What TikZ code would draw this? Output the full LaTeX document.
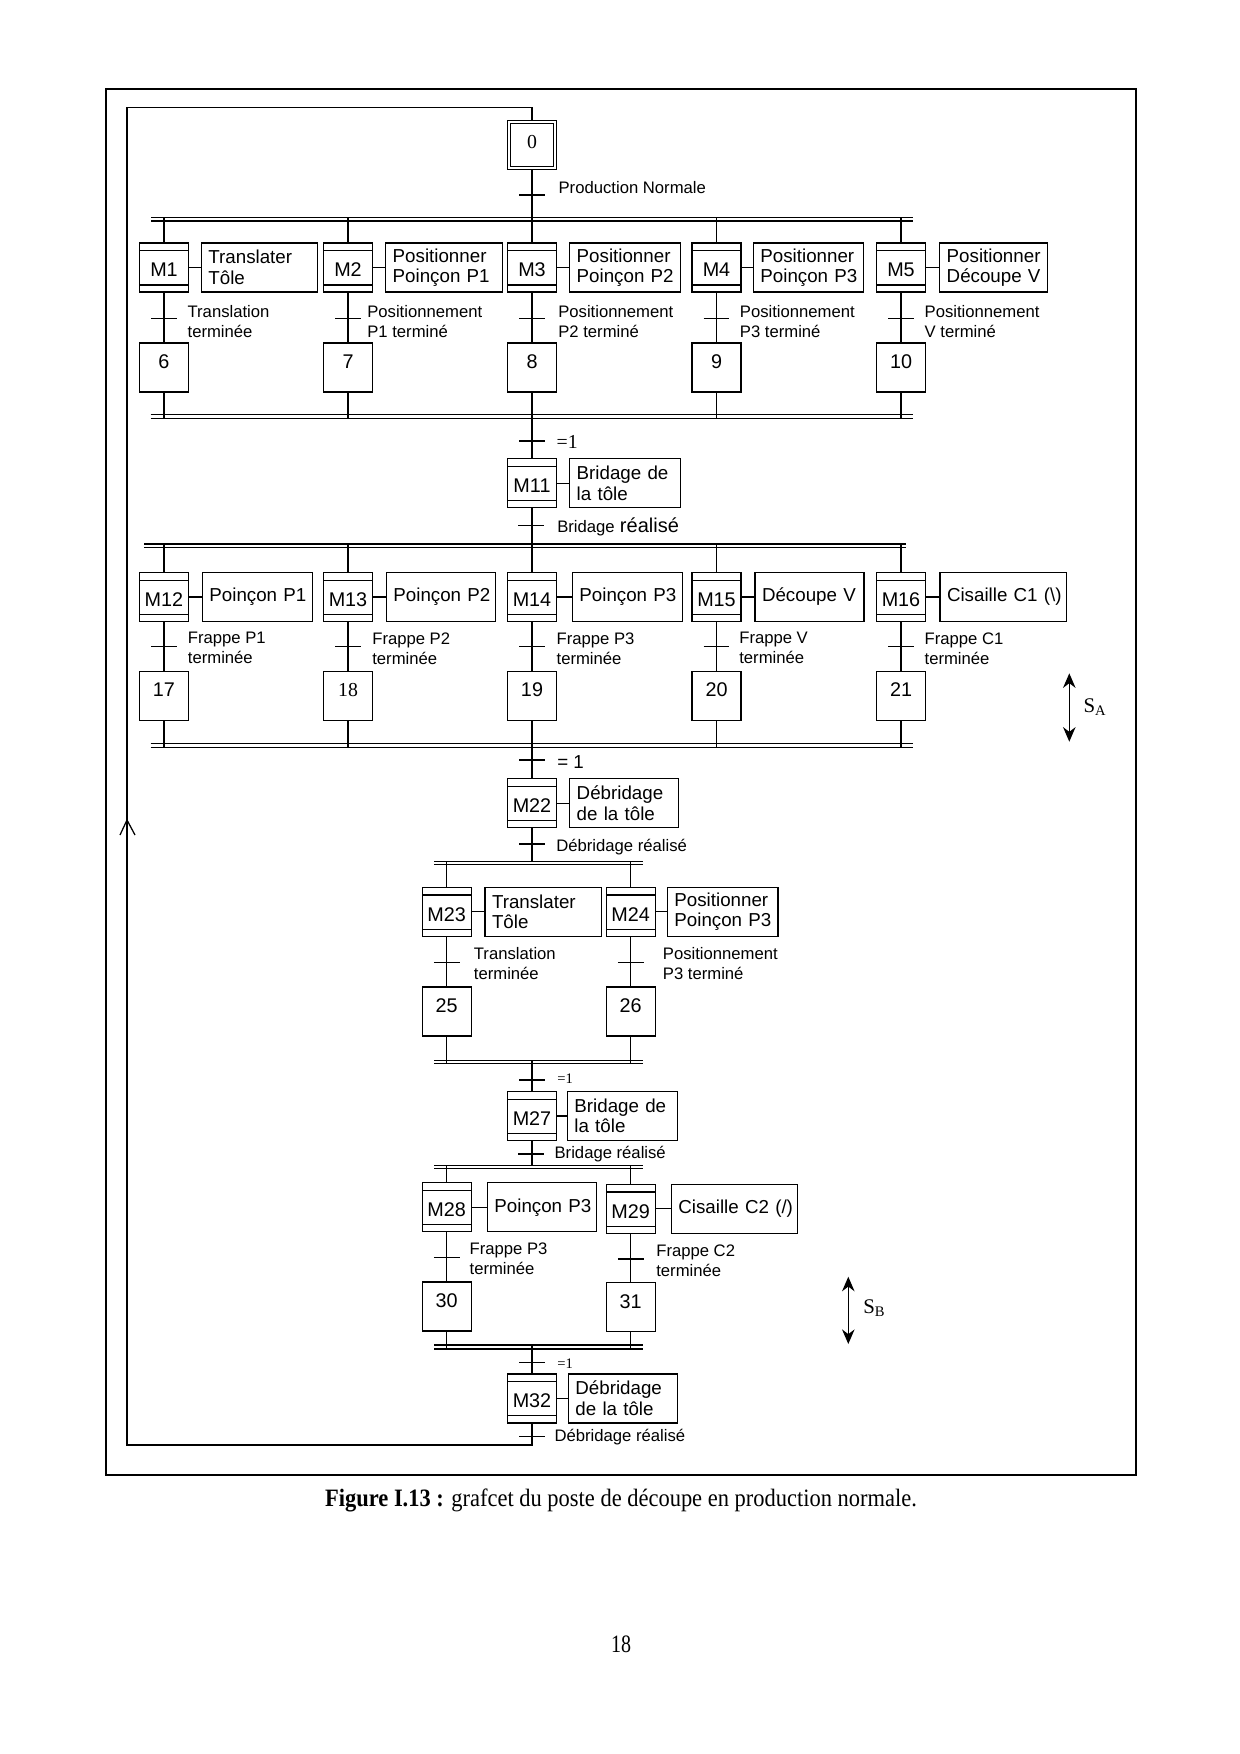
\documentclass[tikz,border=0pt]{standalone}
\usepackage{graphicx}
\usepackage{fontspec}
\setmainfont{Liberation Serif}
\setsansfont{Liberation Sans}
\usetikzlibrary{arrows.meta}
\newcommand\stepfont{\sffamily\fontsize{9.5}{11}\selectfont}
\newcommand\actfont{\sffamily\fontsize{9}{9.9}\selectfont}
\newcommand\trfont{\sffamily\fontsize{8}{9.6}\selectfont}
\newcommand\serfont{\rmfamily\fontsize{9.5}{11}\selectfont}
\newcommand\twol[2]{\mbox{#1}\\\mbox{#2}}
\newcommand\dbar[5]{%
  \coordinate (#1tl) at (#2,#4); \coordinate (#1tr) at (#3,#4);
  \coordinate (#1bl) at (#2,#5); \coordinate (#1br) at (#3,#5);
  \draw (#1tl) -- (#1tr); \draw (#1bl) -- (#1br);}
\newcommand\trbar[1]{\draw ([xshift=-6.2pt]#1) -- ([xshift=6.2pt]#1);}
\begin{document}
\begin{tikzpicture}[x=0.48pt,y=-0.48pt,line width=0.6pt,
  every node/.style={inner sep=0pt},
  stepbox/.style={draw, minimum width=23.5pt, minimum height=23.5pt, font=\stepfont, text height=5pt, text depth=4pt},
  mstep/.style={draw, minimum width=23.5pt, minimum height=23.5pt, font=\stepfont, text height=9pt, text depth=0pt,
    path picture={
      \draw ([yshift=-3.7pt]path picture bounding box.north west) -- ([yshift=-3.7pt]path picture bounding box.north east);
      \draw ([yshift=3.4pt]path picture bounding box.south west) -- ([yshift=3.4pt]path picture bounding box.south east);}},
  actbox/.style={draw, anchor=west, minimum height=23.5pt, inner xsep=3.4pt, inner ysep=0pt, align=left, font=\actfont},
  trlab/.style={anchor=west, align=left, font=\trfont},
  dblarrow/.style={{Stealth[length=7pt,width=6pt]}-{Stealth[length=7pt,width=6pt]}, line width=0.7pt}
]
\useasboundingbox (0,0) rectangle (1240,1754);
\draw[line width=0.8pt] (106,89) rectangle (1136,1475);

% ---------- step 0
\node[stepbox, minimum width=23.2pt, minimum height=23.2pt, font=\serfont, text height=6pt, text depth=3pt] (s0) at (532,145) {0};
\draw ([xshift=1.5pt,yshift=-1.5pt]s0.north west) rectangle ([xshift=-1.5pt,yshift=1.5pt]s0.south east);
\coordinate (t0) at (532,195);
\node[trlab] (l0) at (558,188) {Production Normale};
\dbar{d1}{151}{913}{217.3}{221}

% ---------- row 1
\node[mstep] (M1) at (164,267.5) {M1};
\node[mstep] (M2) at (348,267.5) {M2};
\node[mstep] (M3) at (532,267.5) {M3};
\node[mstep] (M4) at (716.5,267.5) {M4};
\node[mstep] (M5) at (901,267.5) {M5};
\node[actbox, text width=49pt] (A1) at (200.7,267.5) {\twol{Translater}{Tôle}};
\node[actbox, text width=49.4pt] (A2) at (385,267.5) {\twol{Positionner}{Poinçon P1}};
\node[actbox, text width=46.5pt] (A3) at (569,267.5) {\twol{Positionner}{Poinçon P2}};
\node[actbox, text width=46.1pt] (A4) at (752.7,267.5) {\twol{Positionner}{Poinçon P3}};
\node[actbox, text width=44.8pt] (A5) at (939,267.5) {\twol{Positionner}{Découpe V}};
\foreach \i in {1,...,5} {\draw (M\i) -- (A\i);}
\coordinate (t1) at (164,318.7);
\coordinate (t2) at (348,318.7);
\coordinate (t3) at (532,318.7);
\coordinate (t4) at (716.5,318.7);
\coordinate (t5) at (901,318.7);
\node[trlab] (l1) at (187,322) {Translation\\terminée};
\node[trlab] (l2) at (366.7,322) {Positionnement\\P1 terminé};
\node[trlab] (l3) at (557.7,322) {Positionnement\\P2 terminé};
\node[trlab] (l4) at (739.3,322) {Positionnement\\P3 terminé};
\node[trlab] (l5) at (924,322) {Positionnement\\V terminé};
\node[stepbox] (s6) at (164,367.5) {6};
\node[stepbox] (s7) at (348,367.5) {7};
\node[stepbox] (s8) at (532,367.5) {8};
\node[stepbox] (s9) at (716.5,367.5) {9};
\node[stepbox] (s10) at (901,367.5) {10};
\dbar{c1}{150.7}{913}{414.7}{418.7}
\draw (s0.south) -- (M3.north);
\foreach \m in {M1,M2,M4,M5} {\draw (\m.north) -- (\m.north |- d1tl);}
\draw (M1) -- (s6); \draw (M2) -- (s7); \draw (M3) -- (s8); \draw (M4) -- (s9); \draw (M5) -- (s10);
\foreach \s in {s6,s7,s9,s10} {\draw (\s.south) -- (\s.south |- c1bl);}
\foreach \t in {t0,t1,t2,t3,t4,t5} {\trbar{\t}}

% ---------- M11
\coordinate (t11a) at (532,441);
\node[anchor=west, font=\serfont] (l11a) at (556,441.7) {=1};
\node[mstep] (M11) at (532,483.3) {M11};
\node[actbox, text width=46.5pt] (A11) at (569,483.3) {\twol{Bridage de}{la tôle}};
\draw (M11) -- (A11);
\draw (s8.south) -- (M11.north);
\coordinate (t11b) at (531,525.7);
\node[anchor=west] (l11b) at (556.7,526.5) {{\trfont Bridage} {\sffamily\fontsize{9.6}{11}\selectfont réalisé}};
\dbar{d2}{144}{906}{544}{547.3}

% ---------- row 2
\node[mstep] (M12) at (164,596.9) {M12};
\node[mstep] (M13) at (348,596.9) {M13};
\node[mstep] (M14) at (532,596.9) {M14};
\node[mstep] (M15) at (716.5,596.9) {M15};
\node[mstep] (M16) at (901,596.9) {M16};
\node[actbox, text width=46.1pt] (A12) at (201.7,596.9) {\mbox{Poinçon P1}};
\node[actbox, text width=45.5pt] (A13) at (385.7,596.9) {\mbox{Poinçon P2}};
\node[actbox, text width=46.1pt] (A14) at (571.7,596.9) {\mbox{Poinçon P3}};
\node[actbox, text width=45.5pt] (A15) at (754.3,596.9) {\mbox{Découpe V}};
\node[actbox, text width=53.9pt] (A16) at (939.3,596.9) {\mbox{Cisaille C1 (\textbackslash)}};
\foreach \i in {12,...,16} {\draw (M\i) -- (A\i);}
\draw (M11.south) -- (M14.north);
\foreach \m in {M12,M13,M15,M16} {\draw (\m.north) -- (\m.north |- d2tl);}
\coordinate (t12) at (164,646.7);
\coordinate (t13) at (348,646.7);
\coordinate (t14) at (532,646.7);
\coordinate (t15) at (716.5,646.7);
\coordinate (t16) at (901,646.7);
\node[trlab] (l12) at (187.3,648.3) {Frappe P1\\terminée};
\node[trlab] (l13) at (371.7,648.3) {Frappe P2\\terminée};
\node[trlab] (l14) at (556,648.3) {Frappe P3\\terminée};
\node[trlab] (l15) at (738.7,648.3) {Frappe V\\terminée};
\node[trlab] (l16) at (924,648.3) {Frappe C1\\terminée};
\node[stepbox] (s17) at (164,695.9) {17};
\node[stepbox, font=\serfont] (s18) at (348,695.9) {18};
\node[stepbox] (s19) at (532,695.9) {19};
\node[stepbox] (s20) at (716.5,695.9) {20};
\node[stepbox] (s21) at (901,695.9) {21};
\draw (M12) -- (s17); \draw (M13) -- (s18); \draw (M14) -- (s19); \draw (M15) -- (s20); \draw (M16) -- (s21);
\dbar{c2}{150.7}{913}{743.3}{747.3}
\foreach \s in {s17,s18,s20,s21} {\draw (\s.south) -- (\s.south |- c2bl);}
\foreach \t in {t11a,t11b,t12,t13,t14,t15,t16} {\trbar{\t}}

% S_A
\coordinate (sAt) at (1069.3,673.3);
\coordinate (sAb) at (1069.3,741.7);
\draw[dblarrow] (sAt) -- (sAb);
\node[anchor=west, font=\rmfamily\fontsize{10}{12}\selectfont] (sAl) at (1083,706.7) {S\textsubscript{A}};

% ---------- M22
\coordinate (t22a) at (532,760);
\node[anchor=west, font=\sffamily\fontsize{9}{11}\selectfont] (l22a) at (556.7,761.7) {= 1};
\node[mstep] (M22) at (532,803.3) {M22};
\node[actbox, text width=45.4pt] (A22) at (569,803.3) {\twol{Débridage}{de la tôle}};
\draw (M22) -- (A22);
\draw (s19.south) -- (M22.north);
\coordinate (t22b) at (532,844);
\node[trlab] (l22b) at (555.7,846.7) {Débridage réalisé};
\dbar{d3}{434}{643.3}{861.7}{864.7}
\draw (M22.south) -- (M22.south |- d3tl);

% ---------- M23 / M24
\node[mstep] (M23) at (446.7,911.8) {M23};
\node[mstep] (M24) at (630.7,911.8) {M24};
\node[actbox, text width=49.1pt] (A23) at (484.3,911.8) {\twol{Translater}{Tôle}};
\node[actbox, text width=46.3pt] (A24) at (666.7,911.8) {\twol{Positionner}{Poinçon P3}};
\draw (M23) -- (A23); \draw (M24) -- (A24);
\draw (M23.north) -- (M23.north |- d3tl);
\draw (M24.north) -- (M24.north |- d3tl);
\coordinate (t23) at (446.7,962.3);
\coordinate (t24) at (630.7,962.3);
\node[trlab] (l23) at (473.3,963.3) {Translation\\terminée};
\node[trlab] (l24) at (662.3,963.3) {Positionnement\\P3 terminé};
\node[stepbox] (s25) at (446.7,1011.5) {25};
\node[stepbox] (s26) at (630.7,1011.5) {26};
\draw (M23) -- (s25); \draw (M24) -- (s26);
\dbar{c3}{434}{643}{1060.5}{1063.5}
\draw (s25.south) -- (s25.south |- c3bl);
\draw (s26.south) -- (s26.south |- c3bl);

% ---------- M27
\coordinate (c3m) at (532,1060.5);
\coordinate (t27a) at (532,1080);
\node[anchor=west, font=\rmfamily\fontsize{7}{8}\selectfont] (l27a) at (556.7,1079) {=1};
\node[mstep] (M27) at (532,1115.9) {M27};
\node[actbox, text width=46pt] (A27) at (566.7,1115.9) {\twol{Bridage de}{la tôle}};
\draw (M27) -- (A27);
\draw (c3m) -- (M27.north);
\coordinate (t27b) at (531,1154);
\node[trlab] (l27b) at (554,1154) {Bridage réalisé};
\dbar{d4}{434}{643.3}{1165.3}{1168.7}
\draw (M27.south) -- (M27.south |- d4tl);

% ---------- M28 / M29
\node[mstep] (M28) at (446.7,1207.2) {M28};
\node[mstep] (M29) at (630.7,1208.8) {M29};
\node[actbox, text width=45.5pt] (A28) at (486.7,1207.2) {\mbox{Poinçon P3}};
\node[actbox, text width=53.7pt] (A29) at (670.7,1208.8) {\mbox{Cisaille C2 (/)}};
\draw (M28) -- (A28); \draw (M29) -- (A29);
\draw (M28.north) -- (M28.north |- d4tl);
\draw (M29.north) -- (M29.north |- d4tl);
\coordinate (t28) at (446.7,1257.7);
\coordinate (t29) at (630.7,1259);
\node[trlab] (l28) at (469,1258.3) {Frappe P3\\terminée};
\node[trlab] (l29) at (655.7,1261) {Frappe C2\\terminée};
\node[stepbox] (s30) at (446.7,1306.4) {30};
\node[stepbox] (s31) at (630.7,1307.2) {31};
\draw (M28) -- (s30); \draw (M29) -- (s31);
\dbar{c4}{434}{643}{1345}{1349}
\draw (s30.south) -- (s30.south |- c4bl);
\draw (s31.south) -- (s31.south |- c4bl);

% S_B
\coordinate (sBt) at (848.3,1276.7);
\coordinate (sBb) at (848.3,1344);
\draw[dblarrow] (sBt) -- (sBb);
\node[anchor=west, font=\rmfamily\fontsize{10}{12}\selectfont] (sBl) at (862.7,1308.3) {S\textsubscript{B}};

% ---------- M32
\coordinate (c4m) at (532,1345);
\coordinate (t32a) at (532,1362.3);
\node[anchor=west, font=\rmfamily\fontsize{7}{8}\selectfont] (l32a) at (556.7,1364) {=1};
\node[mstep] (M32) at (532,1398.4) {M32};
\node[actbox, text width=45.5pt] (A32) at (567.7,1398.4) {\twol{Débridage}{de la tôle}};
\draw (M32) -- (A32);
\draw (c4m) -- (M32.north);
\coordinate (t32b) at (532,1436.7);
\node[trlab] (l32b) at (554,1437.3) {Débridage réalisé};
\foreach \t in {t22a,t22b,t23,t24,t27a,t27b,t28,t29,t32a,t32b} {\trbar{\t}}

% ---------- loop back to step 0
\coordinate (lpBL) at (127,1445);
\coordinate (lpTR) at (532,107.7);
\draw (M32.south) |- (lpBL) |- (lpTR) -- (s0.north);
\coordinate (lpA) at (127,820);
\draw ([shift={(-7,15)}]lpA) -- (lpA) -- ([shift={(8,15)}]lpA);

% ---------- caption and page number
\node (cap) at (621,1500) {\resizebox{284pt}{\height}{\fontsize{12}{14}\selectfont\textbf{Figure I.13 :} grafcet du poste de découpe en production normale.}};
\node (pg) at (621,1644) {\resizebox{9.6pt}{\height}{\fontsize{12}{14}\selectfont 18}};
\end{tikzpicture}
\end{document}
